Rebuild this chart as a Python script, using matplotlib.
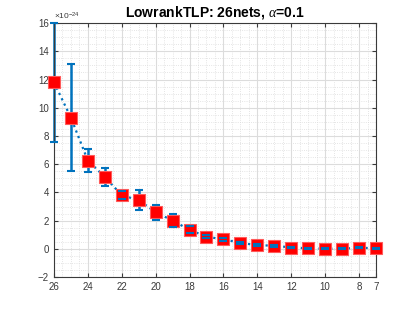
import numpy as np
import matplotlib
matplotlib.use('Agg')
import matplotlib.pyplot as plt
from matplotlib.ticker import MultipleLocator

plt.rcParams['font.family'] = ['Liberation Sans', 'DejaVu Sans']
plt.rcParams['mathtext.fontset'] = 'custom'
plt.rcParams['mathtext.it'] = 'Liberation Serif:italic'
plt.rcParams['mathtext.rm'] = 'Liberation Sans'

# data (values in units of 1e-24)
nets = [26, 25, 24, 23, 22, 21, 20, 19, 18, 17, 16, 15, 14, 13, 12, 11, 10, 9, 8, 7]
mean = [11.8, 9.3, 6.25, 5.1, 3.8, 3.45, 2.6, 2.0, 1.35, 0.86, 0.67, 0.43, 0.25, 0.23, 0.09, 0.04, 0.01, 0.01, 0.08, 0.04]
err = [4.2, 3.8, 0.8, 0.65, 0.3, 0.72, 0.53, 0.45, 0.25, 0.1, 0.1, 0.08, 0.07, 0.07, 0.06, 0.05, 0.05, 0.05, 0.05, 0.04]

blue = '#0072BD'
gray = '#3a3a3a'

fig = plt.figure(figsize=(4.15, 3.12), dpi=100)
ax = fig.add_axes([0.130, 0.112, 0.776, 0.814])

ax.plot(nets, mean, ls=':', lw=1.6, color=blue, zorder=2)
eb = ax.errorbar(nets, mean, yerr=err, fmt='none', ecolor=blue, elinewidth=1.8,
                 capsize=3, capthick=1.5, zorder=2.5)
ax.plot(nets, mean, ls='none', marker='s', ms=8, mfc='red', mec='#ff5a5a', mew=0.8, zorder=3, clip_on=False)
for c in eb[1]:
    c.set_zorder(4)
    c.set_clip_on(False)
for b in eb[2]:
    b.set_clip_on(False)

ax.set_xlim(26, 7)
ax.set_ylim(-2, 16)
ax.set_xticks([26, 24, 22, 20, 18, 16, 14, 12, 10, 8, 7])
ax.set_yticks(np.arange(-2, 17, 2))
ax.xaxis.set_minor_locator(MultipleLocator(0.5))
ax.yaxis.set_minor_locator(MultipleLocator(0.5))
ax.grid(True, which='major', color='#dcdcdc', lw=0.8)
ax.grid(True, which='minor', color='#dcdcdc', lw=0.6, ls=':')
ax.set_axisbelow(True)
ax.tick_params(which='both', direction='in', labelsize=7, colors=gray, length=3, top=True, right=True)
ax.tick_params(which='minor', length=0)
for s in ax.spines.values():
    s.set_color(gray)
    s.set_linewidth(0.8)

ax.text(0.0, 1.005, r'$\times10^{-24}$', transform=ax.transAxes, fontsize=6, color=gray, ha='left', va='bottom')
ax.set_title(r'LowrankTLP: 26nets, $\alpha$=0.1', fontsize=10, fontweight='bold', pad=5)

fig.savefig('out.png', dpi=100)
